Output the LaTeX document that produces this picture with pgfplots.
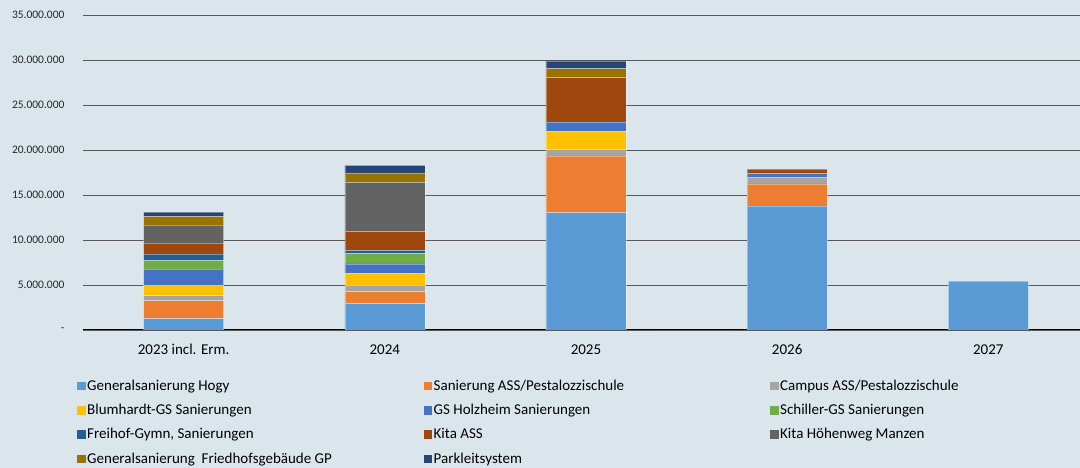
\documentclass[border=0pt]{standalone}
\usepackage{pgfplots}
\pgfplotsset{compat=1.18}
\usetikzlibrary{backgrounds}
\usepackage{fontspec}
\setmainfont{Carlito}
\definecolor{bg}{HTML}{DBE5EC}
\definecolor{c1}{HTML}{5B9BD5}
\definecolor{c2}{HTML}{ED7D31}
\definecolor{c3}{HTML}{A5A5A5}
\definecolor{c4}{HTML}{FFC000}
\definecolor{c5}{HTML}{4472C4}
\definecolor{c6}{HTML}{70AD47}
\definecolor{c7}{HTML}{255E91}
\definecolor{c8}{HTML}{9E480E}
\definecolor{c9}{HTML}{636363}
\definecolor{c10}{HTML}{997300}
\definecolor{c11}{HTML}{264478}
\definecolor{gridc}{HTML}{595959}
\begin{document}
\begin{tikzpicture}
\path[use as bounding box] (-83pt,-138pt) rectangle (997pt,330pt);
\begin{axis}[
  at={(0pt,0pt)}, anchor=south west,
  scale only axis, width=1006pt, height=315pt,
  xmin=-0.5, xmax=4.5, ymin=0, ymax=35,
  ybar stacked, bar width=80pt,
  axis x line*=bottom, axis y line*=left,
  x axis line style={black, line width=1pt, -},
  y axis line style={draw=none},
  ytick={0,5,10,15,20,25,30,35},
  yticklabels={-\hspace{6pt},5.000.000,10.000.000,15.000.000,20.000.000,25.000.000,30.000.000,35.000.000},
  ymajorgrids, grid style={gridc, line width=0.9pt},
  xtick={0,1,2,3,4},
  xticklabels={2023 incl. Erm.,2024,2025,2026,2027},
  major tick length=0pt,
  yticklabel style={font=\fontsize{11.5}{14}\selectfont, text=black!85, anchor=east, xshift=-15pt},
  xticklabel style={font=\fontsize{15}{17}\selectfont, text=black, yshift=-11pt},
  every axis plot/.append style={draw=white, draw opacity=0.35, line width=0.5pt},
  legend columns=3,
  legend cell align=left,
  legend style={at={(-6pt,-48pt)}, anchor=north west, draw=none, fill=none,
    inner sep=0pt, row sep=9.5pt,
    font=\fontsize{15}{17}\selectfont,
    nodes={inner sep=1.5pt}},
  legend image code/.code={\fill[#1, draw=none] (0pt,-4.5pt) rectangle (8.5pt,4pt);},
]
\addplot[fill=c1] coordinates {(0,1.26) (1,2.92) (2,13.03) (3,13.8) (4,5.42)};
\addplot[fill=c2] coordinates {(0,2.0) (1,1.33) (2,6.33) (3,2.44) (4,0)};
\addplot[fill=c3] coordinates {(0,0.56) (1,0.71) (2,0.71) (3,0.74) (4,0)};
\addplot[fill=c4] coordinates {(0,1.11) (1,1.37) (2,2.04) (3,0) (4,0)};
\addplot[fill=c5] coordinates {(0,1.82) (1,1.03) (2,1.0) (3,0.41) (4,0)};
\addplot[fill=c6] coordinates {(0,0.96) (1,1.16) (2,0) (3,0) (4,0)};
\addplot[fill=c7] coordinates {(0,0.71) (1,0.33) (2,0) (3,0) (4,0)};
\addplot[fill=c8] coordinates {(0,1.22) (1,2.11) (2,4.93) (3,0.48) (4,0)};
\addplot[fill=c9] coordinates {(0,2.0) (1,5.44) (2,0) (3,0) (4,0)};
\addplot[fill=c10] coordinates {(0,0.96) (1,1.07) (2,1.0) (3,0) (4,0)};
\addplot[fill=c11] coordinates {(0,0.49) (1,0.82) (2,0.86) (3,0) (4,0)};
\legend{\makebox[335pt][l]{Generalsanierung Hogy},\makebox[335pt][l]{Sanierung ASS/Pestalozzischule},Campus ASS/Pestalozzischule,
Blumhardt-GS Sanierungen,GS Holzheim Sanierungen,Schiller-GS Sanierungen,
Freihof-Gymn{,} Sanierungen,Kita ASS,Kita Höhenweg Manzen,
Generalsanierung\ \ Friedhofsgebäude GP,Parkleitsystem}
\end{axis}
\begin{scope}[on background layer]
\fill[bg] (-83pt,-138pt) rectangle (997pt,330pt);
\end{scope}
\end{tikzpicture}
\end{document}
